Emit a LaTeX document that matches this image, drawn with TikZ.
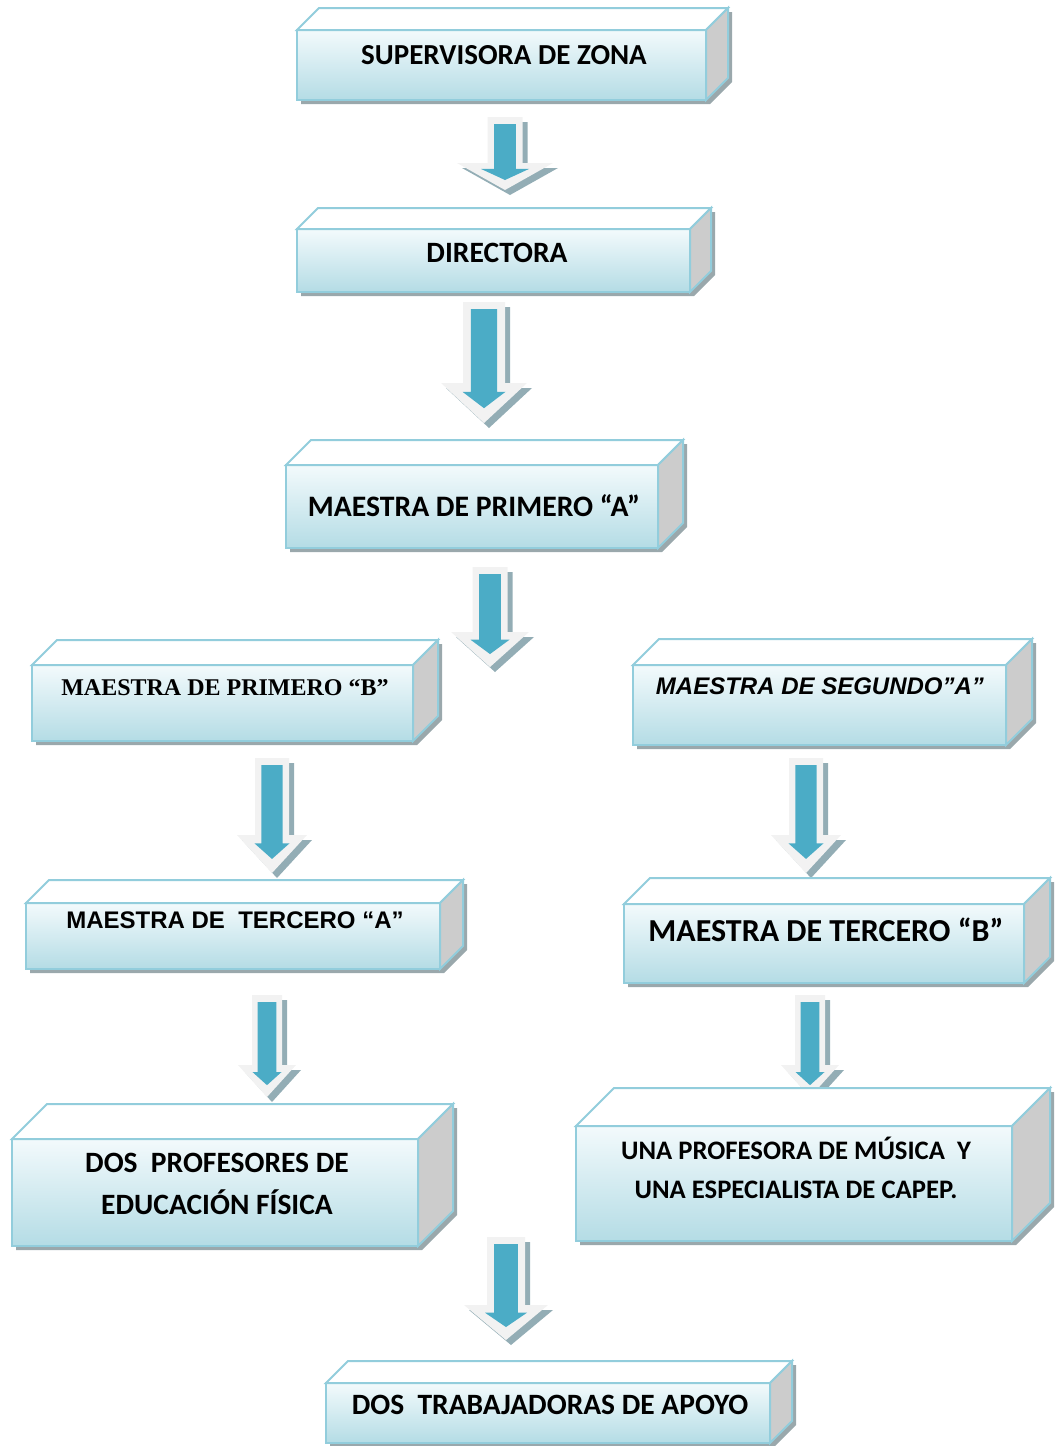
\documentclass[tikz,border=0pt]{standalone}
\usepackage{fontspec}
\setmainfont{Carlito}
\newfontfamily\serifbold{Liberation Serif}
\newfontfamily\arialfont{Liberation Sans}
\definecolor{fronttop}{HTML}{F3FAFC}
\definecolor{frontbot}{HTML}{B4DCE5}
\definecolor{edgeblue}{HTML}{92CDDC}
\definecolor{sidegray}{HTML}{CCCCCC}
\definecolor{boxshadowc}{HTML}{9AA8AC}
\definecolor{arrowblue}{HTML}{4BACC6}
\definecolor{arrowlight}{HTML}{F2F2F2}
\definecolor{arrowshadow}{HTML}{93ADB5}
\tikzset{
  boxline/.style={draw=edgeblue, line width=2pt, line join=miter},
  lbl/.style={inner sep=0pt, align=center, text=black, font=\bfseries},
}
% #1 x1  #2 y1  #3 x2  #4 y2  #5 depth
\newcommand\cubebox[5]{%
  \fill[boxshadowc] ({#1+4},{#2+4}) -- ({#1+#5+4},{#2-#5+4}) -- ({#3+#5+4},{#2-#5+4}) -- ({#3+#5+4},{#4-#5+4}) -- ({#3+4},{#4+4}) -- ({#1+4},{#4+4}) -- cycle;
  \shade[top color=fronttop, bottom color=frontbot] (#1,#2) rectangle (#3,#4);
  \draw[boxline] (#1,#2) rectangle (#3,#4);
  \filldraw[boxline, fill=white] (#1,#2) -- ({#1+#5},{#2-#5}) -- ({#3+#5},{#2-#5}) -- (#3,#2) -- cycle;
  \filldraw[boxline, fill=sidegray] (#3,#2) -- ({#3+#5},{#2-#5}) -- ({#3+#5},{#4-#5}) -- (#3,#4) -- cycle;
}
% #1 cx #2 ytop #3 ybase #4 ytip #5 shaft half width #6 head half width
\newcommand\blockarrow[6]{%
  \fill[arrowshadow] ({#1-#5+5},{#2+5}) -- ({#1+#5+5},{#2+5}) -- ({#1+#5+5},{#3+5}) -- ({#1+#6+5},{#3+5}) -- ({#1+5},{#4+5}) -- ({#1-#6+5},{#3+5}) -- ({#1-#5+5},{#3+5}) -- cycle;
  \fill[arrowlight] ({#1-#5},{#2}) -- ({#1+#5},{#2}) -- ({#1+#5},{#3}) -- ({#1+#6},{#3}) -- ({#1},{#4}) -- ({#1-#6},{#3}) -- ({#1-#5},{#3}) -- cycle;
  \fill[arrowblue] ({#1-0.62*#5},{#2+7}) -- ({#1+0.62*#5},{#2+7}) -- ({#1+0.62*#5},{#3+0.22*(#4-#3)}) -- ({#1+0.5*#6},{#3+0.22*(#4-#3)}) -- ({#1},{#4-0.37*(#4-#3)}) -- ({#1-0.5*#6},{#3+0.22*(#4-#3)}) -- ({#1-0.62*#5},{#3+0.22*(#4-#3)}) -- cycle;
}
\begin{document}
\begin{tikzpicture}[x=1pt, y=-1pt]
\useasboundingbox (0,0) rectangle (1055,1446);

% arrows
\blockarrow{505}{117}{163}{190}{17.5}{48}
\blockarrow{484}{302}{383}{423}{21}{43}
\blockarrow{490}{567}{632}{667}{17.5}{39}
\blockarrow{272}{758}{835}{873}{17}{35}
\blockarrow{806}{758}{835}{873}{17}{35}
\blockarrow{267}{995}{1065}{1097}{15}{29}
\blockarrow{810}{995}{1065}{1097}{15}{29}
\blockarrow{506}{1237}{1305}{1340}{19}{42}

% boxes
\cubebox{297}{30}{706}{100}{22}
\node[lbl, font=\fontsize{29}{33}\selectfont\bfseries] (sup) at (504,55) {SUPERVISORA DE ZONA};

\cubebox{297}{229}{690}{292}{21}
\node[lbl, font=\fontsize{29.5}{33}\selectfont\bfseries] (dir) at (497,253) {DIRECTORA};

\cubebox{286}{465}{658}{548}{25}
\node[lbl, font=\fontsize{29.7}{34}\selectfont\bfseries] (pa) at (474,506) {MAESTRA DE PRIMERO “A”};

\cubebox{32}{665}{413}{741}{25}
\node[lbl, font=\serifbold\fontsize{24}{28}\selectfont\bfseries] (pb) at (225,688) {MAESTRA DE PRIMERO “B”};

\cubebox{633}{665}{1006}{745}{26}
\node[lbl, font=\arialfont\fontsize{24}{28}\selectfont\bfseries\itshape] (sa) at (820,686) {MAESTRA DE SEGUNDO”A”};

\cubebox{26}{903}{440}{969}{23}
\node[lbl, font=\arialfont\fontsize{24}{28}\selectfont\bfseries] (ta) at (235,920) {MAESTRA DE\ \ TERCERO “A”};

\cubebox{624}{904}{1024}{983}{26}
\node[lbl, font=\fontsize{32}{36}\selectfont\bfseries] (tb) at (826,930) {MAESTRA DE TERCERO “B”};

\cubebox{12}{1139}{418}{1246}{35}
\node[lbl, font=\fontsize{29.5}{42}\selectfont\bfseries] (ef) at (217,1184) {DOS\ \ PROFESORES DE\\EDUCACIÓN FÍSICA};

\cubebox{576}{1126}{1012}{1241}{38}
\node[lbl, font=\fontsize{26.7}{39}\selectfont\bfseries] (mu) at (796,1168) {UNA PROFESORA DE MÚSICA\ \ Y\\UNA ESPECIALISTA DE CAPEP.};

\cubebox{326}{1383}{770}{1443}{22}
\node[lbl, font=\fontsize{29.5}{33}\selectfont\bfseries] (ap) at (550,1405) {DOS\ \ TRABAJADORAS DE APOYO};
\end{tikzpicture}
\end{document}
